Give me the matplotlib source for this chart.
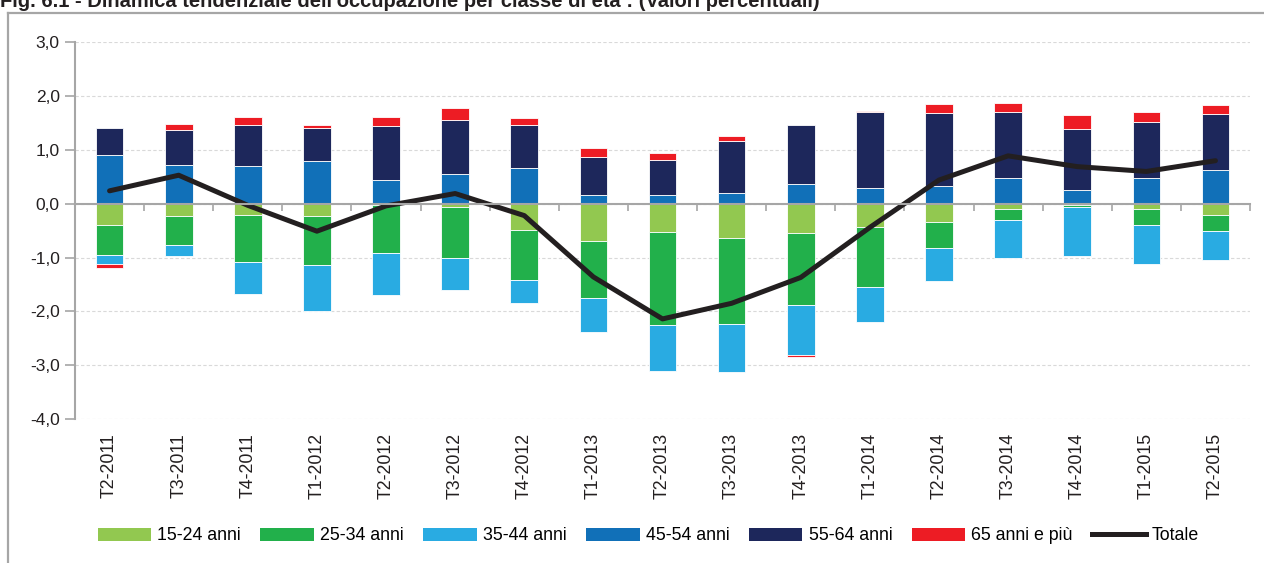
import matplotlib.pyplot as plt
import numpy as np
from matplotlib.lines import Line2D
from matplotlib.patches import Patch
from matplotlib.ticker import FuncFormatter

plt.rcParams['font.family'] = ['Liberation Sans', 'DejaVu Sans']

quarters = ["T2-2011", "T3-2011", "T4-2011", "T1-2012", "T2-2012", "T3-2012", "T4-2012",
            "T1-2013", "T2-2013", "T3-2013", "T4-2013", "T1-2014", "T2-2014", "T3-2014",
            "T4-2014", "T1-2015", "T2-2015"]

age_15_24 = [-0.40, -0.23, -0.21, -0.23, -0.02, -0.06, -0.48, -0.69, -0.53, -0.64, -0.54,
             -0.44, -0.33, -0.09, -0.03, -0.10, -0.20]
age_25_34 = [-0.55, -0.54, -0.87, -0.90, -0.90, -0.94, -0.94, -1.06, -1.72, -1.60, -1.34,
             -1.10, -0.49, -0.21, -0.03, -0.30, -0.31]
age_35_44 = [-0.17, -0.20, -0.60, -0.86, -0.77, -0.60, -0.43, -0.64, -0.85, -0.89, -0.93,
             -0.65, -0.61, -0.71, -0.91, -0.72, -0.54]
age_45_54 = [0.91, 0.72, 0.71, 0.79, 0.45, 0.55, 0.67, 0.16, 0.16, 0.20, 0.37,
             0.29, 0.33, 0.47, 0.26, 0.48, 0.62]
age_55_64 = [0.50, 0.65, 0.76, 0.61, 0.99, 1.00, 0.79, 0.71, 0.66, 0.97, 1.09,
             1.41, 1.36, 1.24, 1.12, 1.03, 1.04]
age_65_plus = [-0.07, 0.12, 0.15, 0.07, 0.17, 0.22, 0.14, 0.17, 0.13, 0.09, -0.03,
               0.03, 0.16, 0.16, 0.27, 0.19, 0.17]
totale = [0.24, 0.53, -0.03, -0.51, -0.04, 0.19, -0.22, -1.36, -2.14, -1.85, -1.37,
          -0.44, 0.44, 0.89, 0.69, 0.60, 0.80]

series = [
    ("15-24 anni", age_15_24, "#92C850"),
    ("25-34 anni", age_25_34, "#22B04B"),
    ("35-44 anni", age_35_44, "#29ABE2"),
    ("45-54 anni", age_45_54, "#1170B8"),
    ("55-64 anni", age_55_64, "#1D275B"),
    ("65 anni e più", age_65_plus, "#ED1C24"),
]
color_line = "#231F20"
color_axis = "#A6A6A6"

W, H = 1264, 563
fig = plt.figure(figsize=(W / 100, H / 100), dpi=100)
ax = fig.add_axes([75 / W, 1 - 419 / H, (1250 - 75) / W, (419 - 42.3) / H])

x = np.arange(len(quarters))
pos_bottom = np.zeros(len(quarters))
neg_bottom = np.zeros(len(quarters))
handles = []
for label, vals, col in series:
    vals = np.array(vals)
    bottom = np.where(vals >= 0, pos_bottom, neg_bottom)
    ax.bar(x, vals, 0.4, bottom=bottom, color=col, edgecolor="white", linewidth=0.6, zorder=3)
    pos_bottom += np.where(vals >= 0, vals, 0)
    neg_bottom += np.where(vals < 0, vals, 0)
    handles.append(Patch(facecolor=col, label=label))

ax.plot(x, totale, color=color_line, lw=3.6, solid_capstyle="round", zorder=4)
handles.append(Line2D([], [], color=color_line, lw=3.6, label="Totale"))

ax.set_xlim(-0.5, len(quarters) - 0.5)
ax.set_ylim(-4, 3)
ax.set_yticks(np.arange(-4, 4, 1))
ax.yaxis.set_major_formatter(FuncFormatter(lambda v, p: f"{v:.1f}".replace(".", ",")))
ax.yaxis.grid(True, color="#D9D9D9", linestyle=(0, (3, 2)), linewidth=0.8, zorder=0)
ax.tick_params(axis="y", direction="out", length=7, color=color_axis, width=1.2,
               labelsize=12.5, labelcolor="#231F20", pad=4)

ax.spines["top"].set_visible(False)
ax.spines["right"].set_visible(False)
ax.spines["left"].set_color(color_axis)
ax.spines["left"].set_linewidth(1.5)
ax.spines["bottom"].set_position(("data", 0))
ax.spines["bottom"].set_color(color_axis)
ax.spines["bottom"].set_linewidth(1.5)
ax.spines["bottom"].set_zorder(5)

# small ticks on the zero line between categories
ax.set_xticks(np.arange(0.5, len(quarters), 1))
ax.tick_params(axis="x", direction="out", length=5, color=color_axis, width=1.2, labelbottom=False)

sec = ax.secondary_xaxis("bottom")
sec.set_xticks(x)
sec.set_xticklabels(quarters, rotation=90, fontsize=12.8, color="#231F20")
sec.tick_params(length=0, pad=10)
sec.spines["bottom"].set_visible(False)

fig.legend(handles=handles, loc="center", bbox_to_anchor=(0.513, 1 - 536 / H), ncol=7,
           frameon=False, fontsize=12.8, handlelength=3.0, handleheight=0.75,
           handletextpad=0.35, columnspacing=1.1)

# outer frame
fig.add_artist(Line2D([8 / W, 8 / W], [0, 1 - 13 / H], color=color_axis, lw=1.6))
fig.add_artist(Line2D([8 / W, 1], [1 - 13 / H, 1 - 13 / H], color=color_axis, lw=1.6))

fig.text(0, 1 - 7 / H, "Fig. 6.1 - Dinamica tendenziale dell'occupazione per classe di età : (Valori percentuali)",
         fontsize=14.5, fontweight="bold", va="baseline", ha="left", color="#231F20")

fig.savefig("out.png", dpi=100)
